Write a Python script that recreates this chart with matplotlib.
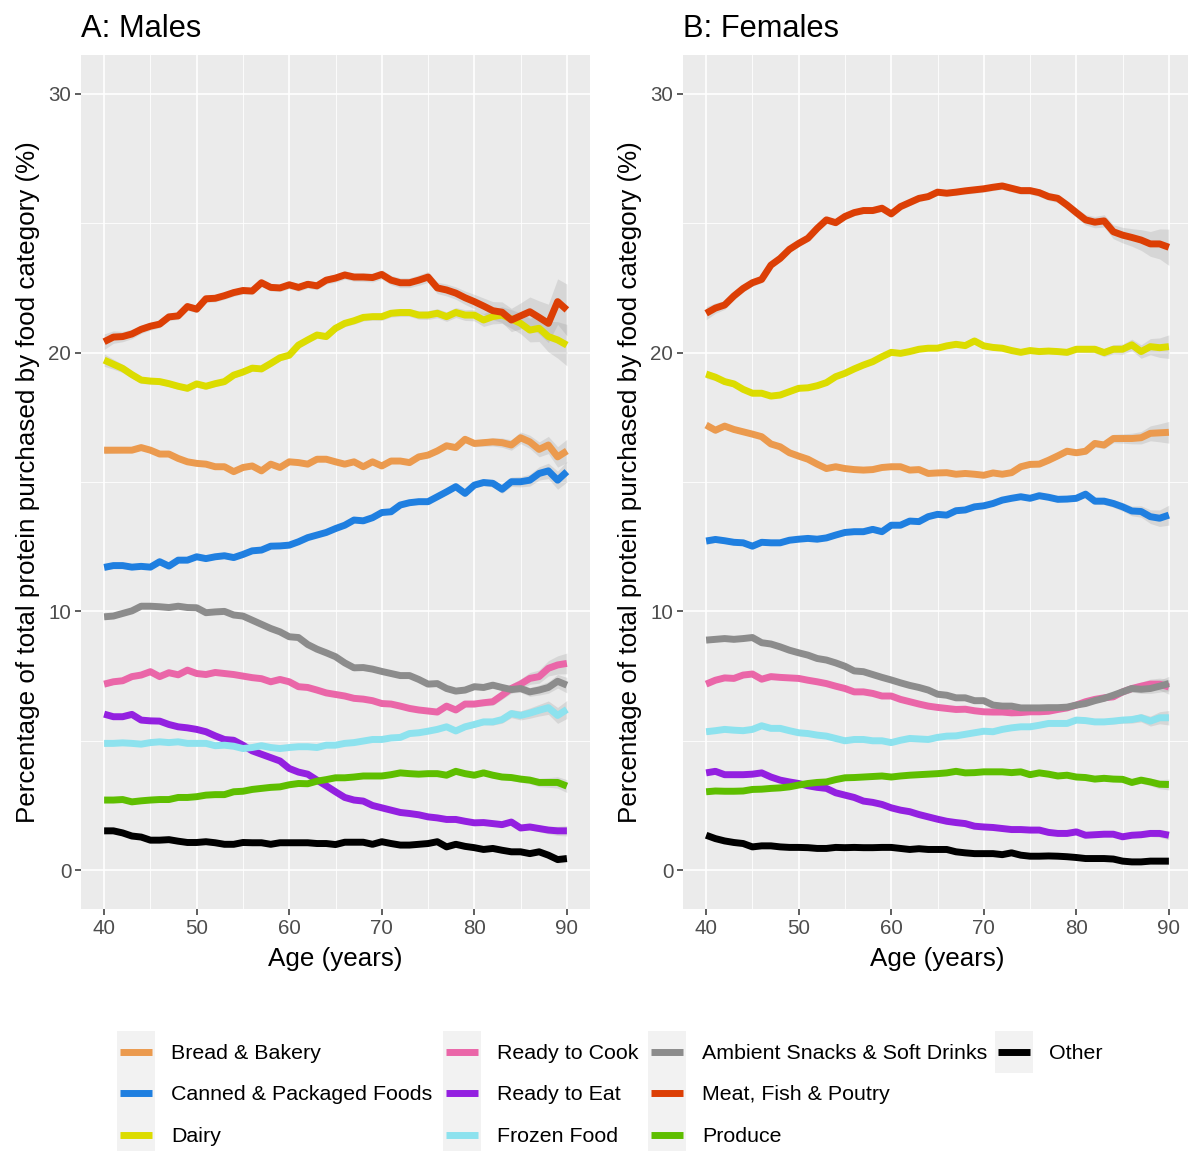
import numpy as np
import matplotlib
matplotlib.use("Agg")
import matplotlib.pyplot as plt
from matplotlib.patches import Rectangle
from matplotlib.lines import Line2D

plt.rcParams['font.family'] = ['Liberation Sans', 'DejaVu Sans']

ages = np.arange(40, 91)

categories = ["Bread & Bakery", "Canned & Packaged Foods", "Dairy",
              "Ready to Cook", "Ready to Eat", "Frozen Food",
              "Ambient Snacks & Soft Drinks", "Meat, Fish & Poutry", "Produce",
              "Other"]
colors = ["#EB9A4E", "#1F7FE0", "#DCDC00",
          "#EA66A8", "#9320E0", "#8DE2EE",
          "#8C8C8C", "#DC3F05", "#5EBE00",
          "#000000"]

# ---- Males (ages 40..90) ----
m_bread = [16.23, 16.23, 16.23, 16.23, 16.33, 16.23, 16.08, 16.08, 15.91, 15.78,
           15.72, 15.69, 15.59, 15.59, 15.40, 15.56, 15.62, 15.43, 15.69, 15.56,
           15.78, 15.75, 15.69, 15.88, 15.88, 15.78, 15.69, 15.78, 15.59, 15.78,
           15.62, 15.81, 15.81, 15.75, 15.97, 16.04, 16.20, 16.40, 16.33, 16.65,
           16.49, 16.52, 16.55, 16.52, 16.43, 16.71, 16.55, 16.26, 16.43, 15.97,
           16.20]
m_canned = [11.70, 11.77, 11.77, 11.71, 11.74, 11.71, 11.92, 11.75, 11.98, 11.98,
            12.11, 12.04, 12.11, 12.15, 12.08, 12.20, 12.34, 12.37, 12.52, 12.53,
            12.56, 12.69, 12.85, 12.95, 13.05, 13.20, 13.33, 13.53, 13.50, 13.62,
            13.82, 13.85, 14.11, 14.20, 14.24, 14.24, 14.43, 14.62, 14.82, 14.56,
            14.88, 14.98, 14.95, 14.72, 15.01, 15.01, 15.07, 15.33, 15.43, 15.07,
            15.40]
m_dairy = [19.71, 19.55, 19.39, 19.15, 18.94, 18.90, 18.88, 18.80, 18.70, 18.62,
           18.79, 18.70, 18.80, 18.88, 19.13, 19.25, 19.40, 19.37, 19.58, 19.80,
           19.90, 20.29, 20.49, 20.68, 20.62, 20.94, 21.13, 21.23, 21.36, 21.39,
           21.39, 21.52, 21.55, 21.55, 21.45, 21.45, 21.52, 21.39, 21.55, 21.45,
           21.45, 21.26, 21.39, 21.45, 21.30, 21.13, 20.87, 20.94, 20.62, 20.49,
           20.29]
m_cook = [7.19, 7.28, 7.32, 7.48, 7.54, 7.67, 7.48, 7.63, 7.55, 7.73,
          7.60, 7.56, 7.64, 7.60, 7.56, 7.50, 7.44, 7.40, 7.28, 7.37,
          7.28, 7.09, 7.06, 6.96, 6.85, 6.79, 6.73, 6.64, 6.61, 6.55,
          6.44, 6.42, 6.34, 6.25, 6.19, 6.15, 6.11, 6.34, 6.19, 6.42,
          6.42, 6.47, 6.51, 6.76, 7.02, 7.19, 7.41, 7.48, 7.80, 7.93,
          7.99]
m_eat = [6.03, 5.93, 5.93, 6.02, 5.80, 5.77, 5.76, 5.63, 5.54, 5.50,
         5.44, 5.35, 5.19, 5.05, 5.02, 4.83, 4.61, 4.48, 4.35, 4.22,
         3.93, 3.79, 3.71, 3.48, 3.26, 3.03, 2.81, 2.71, 2.67, 2.50,
         2.41, 2.32, 2.23, 2.19, 2.14, 2.06, 2.02, 1.96, 1.96, 1.89,
         1.83, 1.84, 1.80, 1.76, 1.86, 1.63, 1.67, 1.61, 1.55, 1.52,
         1.52]
m_frozen = [4.90, 4.90, 4.92, 4.90, 4.87, 4.93, 4.96, 4.93, 4.96, 4.90,
            4.90, 4.90, 4.81, 4.83, 4.79, 4.70, 4.74, 4.81, 4.74, 4.70,
            4.74, 4.77, 4.77, 4.74, 4.83, 4.83, 4.90, 4.93, 4.99, 5.05,
            5.05, 5.11, 5.13, 5.28, 5.31, 5.37, 5.44, 5.54, 5.38, 5.54,
            5.63, 5.73, 5.73, 5.82, 6.05, 5.98, 6.07, 6.18, 6.28, 5.98,
            6.21]
m_ambient = [9.79, 9.82, 9.92, 10.02, 10.20, 10.20, 10.18, 10.15, 10.20, 10.15,
             10.14, 9.95, 9.98, 10.00, 9.86, 9.82, 9.66, 9.50, 9.34, 9.21,
             9.02, 8.99, 8.72, 8.54, 8.40, 8.25, 8.01, 7.82, 7.83, 7.77,
             7.68, 7.60, 7.52, 7.52, 7.37, 7.19, 7.21, 7.02, 6.92, 6.96,
             7.09, 7.06, 7.15, 7.06, 6.98, 7.02, 6.89, 6.96, 7.06, 7.30,
             7.15]
m_meat = [20.42, 20.60, 20.62, 20.72, 20.90, 21.02, 21.10, 21.38, 21.42, 21.78,
          21.68, 22.08, 22.10, 22.20, 22.32, 22.40, 22.38, 22.70, 22.52, 22.50,
          22.62, 22.52, 22.64, 22.58, 22.80, 22.88, 23.00, 22.92, 22.92, 22.90,
          23.02, 22.80, 22.70, 22.70, 22.80, 22.92, 22.50, 22.42, 22.30, 22.12,
          21.97, 21.80, 21.62, 21.56, 21.26, 21.42, 21.58, 21.36, 21.13, 21.97,
          21.65]
m_produce = [2.71, 2.71, 2.73, 2.64, 2.68, 2.71, 2.73, 2.73, 2.81, 2.81,
             2.84, 2.90, 2.92, 2.92, 3.03, 3.05, 3.12, 3.16, 3.20, 3.22,
             3.30, 3.35, 3.34, 3.44, 3.50, 3.57, 3.57, 3.60, 3.64, 3.64,
             3.64, 3.69, 3.76, 3.73, 3.71, 3.73, 3.73, 3.67, 3.82, 3.73,
             3.67, 3.76, 3.67, 3.60, 3.58, 3.52, 3.48, 3.39, 3.39, 3.39,
             3.25]
m_other = [1.52, 1.52, 1.44, 1.32, 1.28, 1.16, 1.16, 1.18, 1.12, 1.07,
           1.07, 1.10, 1.06, 1.00, 1.00, 1.07, 1.06, 1.06, 1.00, 1.06,
           1.06, 1.06, 1.06, 1.03, 1.03, 0.99, 1.08, 1.08, 1.08, 1.00,
           1.10, 1.03, 0.97, 0.97, 1.00, 1.03, 1.10, 0.90, 1.00, 0.92,
           0.87, 0.80, 0.84, 0.77, 0.71, 0.71, 0.64, 0.71, 0.58, 0.41,
           0.45]

# ---- Females (ages 40..90) ----
f_bread = [17.20, 17.00, 17.16, 17.03, 16.94, 16.85, 16.75, 16.47, 16.36, 16.13,
           16.00, 15.88, 15.69, 15.52, 15.59, 15.52, 15.48, 15.46, 15.48, 15.56,
           15.59, 15.59, 15.46, 15.48, 15.33, 15.35, 15.36, 15.30, 15.33, 15.30,
           15.26, 15.35, 15.30, 15.36, 15.59, 15.68, 15.69, 15.84, 16.01, 16.19,
           16.13, 16.19, 16.49, 16.43, 16.68, 16.68, 16.68, 16.71, 16.88, 16.90,
           16.92]
f_canned = [12.72, 12.78, 12.73, 12.67, 12.65, 12.52, 12.67, 12.65, 12.65, 12.75,
            12.79, 12.82, 12.79, 12.84, 12.95, 13.05, 13.08, 13.08, 13.17, 13.08,
            13.33, 13.33, 13.49, 13.47, 13.66, 13.75, 13.72, 13.89, 13.92, 14.04,
            14.08, 14.17, 14.30, 14.37, 14.43, 14.37, 14.47, 14.41, 14.33, 14.34,
            14.37, 14.53, 14.26, 14.26, 14.17, 14.04, 13.88, 13.86, 13.66, 13.60,
            13.72]
f_dairy = [19.17, 19.05, 18.88, 18.79, 18.58, 18.43, 18.43, 18.32, 18.36, 18.49,
           18.62, 18.64, 18.72, 18.84, 19.07, 19.20, 19.37, 19.52, 19.65, 19.84,
           20.01, 19.97, 20.04, 20.13, 20.17, 20.17, 20.26, 20.32, 20.27, 20.45,
           20.26, 20.20, 20.17, 20.08, 20.01, 20.08, 20.04, 20.06, 20.04, 20.01,
           20.13, 20.13, 20.13, 20.00, 20.13, 20.13, 20.30, 20.04, 20.23, 20.19,
           20.23]
f_cook = [7.19, 7.34, 7.43, 7.41, 7.54, 7.58, 7.38, 7.48, 7.45, 7.43,
          7.41, 7.34, 7.28, 7.21, 7.11, 7.02, 6.89, 6.89, 6.83, 6.73,
          6.73, 6.60, 6.51, 6.42, 6.34, 6.29, 6.25, 6.21, 6.22, 6.16,
          6.12, 6.11, 6.11, 6.08, 6.09, 6.12, 6.12, 6.14, 6.21, 6.27,
          6.38, 6.51, 6.60, 6.66, 6.70, 6.89, 7.02, 7.11, 7.19, 7.19,
          7.08]
f_eat = [3.76, 3.82, 3.69, 3.69, 3.69, 3.71, 3.76, 3.60, 3.48, 3.41,
         3.35, 3.26, 3.20, 3.16, 2.99, 2.90, 2.81, 2.67, 2.62, 2.54,
         2.41, 2.32, 2.26, 2.15, 2.06, 1.97, 1.89, 1.84, 1.80, 1.70,
         1.67, 1.65, 1.61, 1.57, 1.57, 1.55, 1.55, 1.46, 1.42, 1.42,
         1.48, 1.35, 1.37, 1.39, 1.39, 1.29, 1.35, 1.37, 1.42, 1.42,
         1.35]
f_frozen = [5.35, 5.39, 5.44, 5.41, 5.39, 5.44, 5.58, 5.48, 5.48, 5.39,
            5.31, 5.28, 5.22, 5.18, 5.09, 5.00, 5.05, 5.05, 5.00, 5.00,
            4.93, 5.02, 5.09, 5.07, 5.05, 5.13, 5.18, 5.19, 5.25, 5.31,
            5.37, 5.35, 5.44, 5.50, 5.54, 5.54, 5.60, 5.67, 5.67, 5.67,
            5.80, 5.78, 5.73, 5.73, 5.76, 5.80, 5.82, 5.89, 5.76, 5.89,
            5.89]
f_ambient = [8.89, 8.92, 8.95, 8.92, 8.95, 8.99, 8.79, 8.74, 8.63, 8.50,
             8.40, 8.31, 8.18, 8.12, 8.01, 7.88, 7.70, 7.67, 7.56, 7.45,
             7.35, 7.24, 7.14, 7.06, 6.96, 6.80, 6.76, 6.66, 6.66, 6.55,
             6.55, 6.38, 6.34, 6.34, 6.27, 6.27, 6.27, 6.28, 6.28, 6.30,
             6.38, 6.44, 6.55, 6.64, 6.76, 6.89, 7.02, 6.99, 7.02, 7.11,
             7.21]
f_meat = [21.52, 21.72, 21.84, 22.19, 22.48, 22.70, 22.83, 23.38, 23.64, 23.99,
          24.22, 24.42, 24.80, 25.13, 25.02, 25.26, 25.41, 25.49, 25.49, 25.58,
          25.36, 25.64, 25.80, 25.96, 26.03, 26.20, 26.16, 26.20, 26.25, 26.29,
          26.33, 26.39, 26.44, 26.35, 26.26, 26.26, 26.18, 26.03, 25.96, 25.70,
          25.41, 25.13, 25.04, 25.09, 24.67, 24.54, 24.45, 24.35, 24.20, 24.20,
          24.07]
f_produce = [3.03, 3.06, 3.05, 3.05, 3.06, 3.12, 3.13, 3.16, 3.18, 3.22,
             3.29, 3.35, 3.39, 3.41, 3.50, 3.57, 3.58, 3.60, 3.62, 3.64,
             3.60, 3.64, 3.67, 3.69, 3.71, 3.73, 3.76, 3.82, 3.76, 3.77,
             3.80, 3.80, 3.80, 3.77, 3.80, 3.69, 3.76, 3.71, 3.64, 3.67,
             3.60, 3.58, 3.52, 3.55, 3.52, 3.51, 3.39, 3.48, 3.41, 3.32,
             3.31]
f_other = [1.35, 1.22, 1.13, 1.07, 1.03, 0.90, 0.94, 0.94, 0.90, 0.88,
           0.88, 0.87, 0.84, 0.84, 0.88, 0.87, 0.88, 0.87, 0.87, 0.88,
           0.88, 0.84, 0.80, 0.83, 0.80, 0.80, 0.80, 0.71, 0.67, 0.64,
           0.64, 0.64, 0.60, 0.67, 0.58, 0.54, 0.54, 0.55, 0.54, 0.52,
           0.49, 0.45, 0.45, 0.45, 0.43, 0.35, 0.32, 0.32, 0.35, 0.35,
           0.35]

# confidence band half-widths (largest series), scaled per series below
m_se = [0.30, 0.24, 0.20, 0.18, 0.16, 0.15, 0.14, 0.14, 0.14, 0.14,
        0.14, 0.14, 0.14, 0.14, 0.14, 0.14, 0.14, 0.14, 0.14, 0.14,
        0.15, 0.15, 0.15, 0.15, 0.15, 0.16, 0.16, 0.16, 0.17, 0.17,
        0.18, 0.18, 0.19, 0.19, 0.20, 0.21, 0.22, 0.23, 0.24, 0.26,
        0.28, 0.31, 0.35, 0.40, 0.45, 0.50, 0.57, 0.64, 0.74, 0.88,
        1.00]
f_se = [0.25, 0.20, 0.17, 0.15, 0.14, 0.13, 0.13, 0.12, 0.12, 0.12,
        0.12, 0.12, 0.12, 0.12, 0.12, 0.12, 0.12, 0.12, 0.12, 0.12,
        0.12, 0.12, 0.12, 0.12, 0.12, 0.12, 0.12, 0.12, 0.13, 0.13,
        0.13, 0.13, 0.13, 0.14, 0.14, 0.14, 0.15, 0.15, 0.16, 0.17,
        0.18, 0.20, 0.22, 0.24, 0.27, 0.30, 0.34, 0.40, 0.48, 0.58,
        0.70]
m_scale = [0.45, 0.40, 0.80, 0.40, 0.20, 0.35, 0.30, 1.00, 0.25, 0.15]
f_scale = [0.60, 0.55, 0.65, 0.40, 0.25, 0.40, 0.40, 1.00, 0.30, 0.20]

males = [m_bread, m_canned, m_dairy, m_cook, m_eat, m_frozen,
         m_ambient, m_meat, m_produce, m_other]
females = [f_bread, f_canned, f_dairy, f_cook, f_eat, f_frozen,
           f_ambient, f_meat, f_produce, f_other]

W, H = 1188, 1151
fig = plt.figure(figsize=(W / 100, H / 100), dpi=100)

def px_axes(x0, y0, x1, y1):
    return fig.add_axes([x0 / W, 1 - y1 / H, (x1 - x0) / W, (y1 - y0) / H])

ax1 = px_axes(81, 55, 590, 909)
ax2 = px_axes(683, 55, 1192, 909)

def draw_panel(ax, series, se, scale, title):
    ax.set_facecolor("#EBEBEB")
    for s in ax.spines.values():
        s.set_visible(False)
    ax.set_xlim(37.5, 92.5)
    ax.set_ylim(-1.5, 31.5)
    ax.set_xticks([40, 50, 60, 70, 80, 90])
    ax.set_yticks([0, 10, 20, 30])
    ax.set_xticks([45, 55, 65, 75, 85], minor=True)
    ax.set_yticks([5, 15, 25], minor=True)
    ax.grid(which="major", color="white", linewidth=1.2)
    ax.grid(which="minor", color="white", linewidth=0.6)
    ax.set_axisbelow(True)
    ax.tick_params(which="major", length=4, width=1.1, color="#333333",
                   labelcolor="#4D4D4D", labelsize=14.8, pad=3)
    ax.tick_params(which="minor", length=0)
    se = np.array(se)
    for vals, k, c in zip(series, scale, colors):
        v = np.array(vals)
        ax.fill_between(ages, v - se * k, v + se * k, color="#999999",
                        alpha=0.25, linewidth=0, zorder=2)
    for vals, c in zip(series, colors):
        ax.plot(ages, vals, color=c, linewidth=5, solid_capstyle="butt",
                zorder=3)
    ax.set_title(title, loc="left", fontsize=22.2, pad=13, x=0.0)
    ax.set_xlabel("Age (years)", fontsize=18.7, labelpad=6.5)
    ax.set_ylabel("Percentage of total protein purchased by food category (%)",
                  fontsize=18.7, labelpad=6)

draw_panel(ax1, males, m_se, m_scale, "A: Males")
draw_panel(ax2, females, f_se, f_scale, "B: Females")

# legend drawn manually: 4 columns, filled column by column (3,3,3,1)
key_x = [117, 443, 648, 995]
row_y = [1031, 1072.5, 1114]
key_w, key_h = 38, 41.5
for i, (name, c) in enumerate(zip(categories, colors)):
    col, row = divmod(i, 3)
    x0, y0 = key_x[col], row_y[row]
    fig.patches.append(Rectangle((x0 / W, 1 - (y0 + key_h) / H), key_w / W,
                                 key_h / H, transform=fig.transFigure,
                                 facecolor="#F2F2F2", edgecolor="none"))
    yc = 1 - (y0 + key_h / 2) / H
    fig.lines.append(Line2D([(x0 + 3) / W, (x0 + key_w - 3) / W], [yc, yc],
                            transform=fig.transFigure, color=c, linewidth=5,
                            solid_capstyle="butt"))
    fig.text((x0 + key_w + 16) / W, yc - 1.5 / H, name, fontsize=15.4,
             va="center", ha="left", color="black")

fig.savefig("out.png", dpi=100, facecolor="white")
